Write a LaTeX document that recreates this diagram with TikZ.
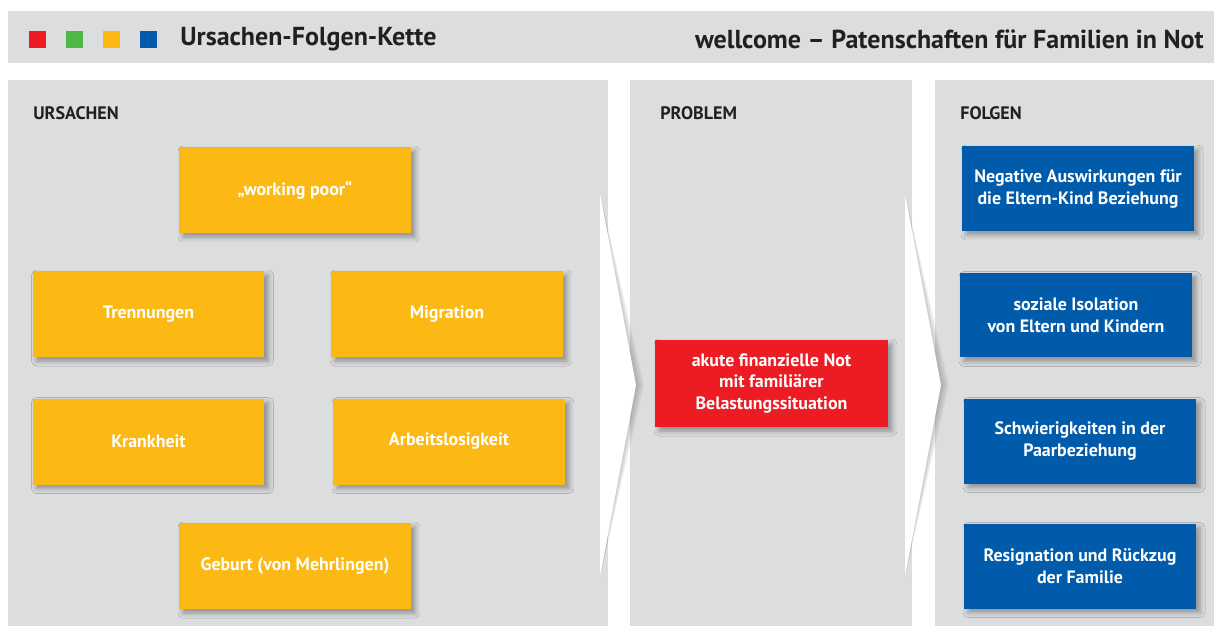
\documentclass[tikz,border=0pt]{standalone}
\usepackage{fontspec}
\setmainfont{PT Sans}
\usetikzlibrary{shadows.blur}
\definecolor{panelgray}{HTML}{DCDDDF}
\definecolor{wyellow}{HTML}{FDB913}
\definecolor{wred}{HTML}{ED1C24}
\definecolor{wgreen}{HTML}{4DB848}
\definecolor{wblue}{HTML}{005BAA}
\definecolor{wtext}{HTML}{231F20}
\begin{document}
\begin{tikzpicture}[x=0.02cm, y=0.02cm,
    box/.style = {minimum width=4.64cm, minimum height=1.72cm, inner sep=0pt, align=center,
      text=white, font=\fontsize{10.2}{12.5}\selectfont\bfseries,
      blur shadow={shadow xshift=0.8mm, shadow yshift=-0.8mm, shadow blur radius=1mm, shadow opacity=35}},
    cause/.style = {box, fill=wyellow},
    problem/.style = {box, fill=wred, minimum width=4.66cm, minimum height=1.74cm},
    effect/.style = {box, fill=wblue, minimum height=1.7cm},
    label/.style = {anchor=west, inner sep=0pt, text=wtext, font=\fontsize{10.3}{12}\selectfont\bfseries},
    swatch/.style = {minimum size=0.34cm, inner sep=0pt},
    shade/.style = {fill=black, opacity=0.05}]
    \useasboundingbox[fill=white] (0,0) rectangle (1214,-626);

    % header
    \fill[panelgray] (8,-11) rectangle (1214,-63);
    \node[swatch, fill=wred] (s1) at (37.5,-39.5) {};
    \node[swatch, fill=wgreen] (s2) at (74.5,-39.5) {};
    \node[swatch, fill=wyellow] (s3) at (111.5,-39.5) {};
    \node[swatch, fill=wblue] (s4) at (148.5,-39.5) {};
    \node[anchor=west, inner sep=0pt, text=wtext, font=\fontsize{14.8}{16}\selectfont\bfseries] (title) at (180,-39.5) {Ursachen-Folgen-Kette};
    \node[anchor=east, inner sep=0pt, text=wtext, font=\fontsize{14.8}{16}\selectfont\bfseries] (sub) at (1204,-39.5) {wellcome – Patenschaften für Familien in Not};

    % panels
    \fill[panelgray] (8,-80) rectangle (608,-626);
    \fill[panelgray] (630,-80) rectangle (912,-626);
    \fill[panelgray] (935,-80) rectangle (1214,-626);

    % chevrons with a soft shadow
    \foreach \cx in {600,905} {
      \foreach \d in {2,4,6,8}
        \fill[shade] (\cx,-193) -- (\cx+36+\d,-385) -- (\cx,-577) -- cycle;
      \fill[white] (\cx,-193) -- (\cx+36,-385) -- (\cx,-577) -- cycle;
    }

    \node[label] (l1) at (33,-113) {URSACHEN};
    \node[label] (l2) at (660,-113) {PROBLEM};
    \node[label] (l3) at (960,-113) {FOLGEN};

    % causes
    \node[cause] (poor) at (295,-190) {„working poor“};
    \node[cause] (tren) at (148.5,-314) {Trennungen};
    \node[cause] (migr) at (447,-314) {Migration};
    \node[cause] (krank) at (148.5,-441.5) {Krankheit};
    \node[cause] (arb) at (449,-441.5) {Arbeitslosigkeit};
    \node[cause] (geb) at (295,-566) {Geburt (von Mehrlingen)};

    % problem
    \node[problem] (not) at (771.5,-383.5) {akute finanzielle Not\\mit familiärer\\Belastungssituation};

    % effects
    \node[effect] (neg) at (1078,-188.5) {Negative Auswirkungen für\\die Eltern-Kind Beziehung};
    \node[effect] (soz) at (1076,-315) {soziale Isolation\\von Eltern und Kindern};
    \node[effect] (paar) at (1080,-441) {Schwierigkeiten in der\\Paarbeziehung};
    \node[effect] (res) at (1080,-566) {Resignation und Rückzug\\der Familie};
\end{tikzpicture}
\end{document}
